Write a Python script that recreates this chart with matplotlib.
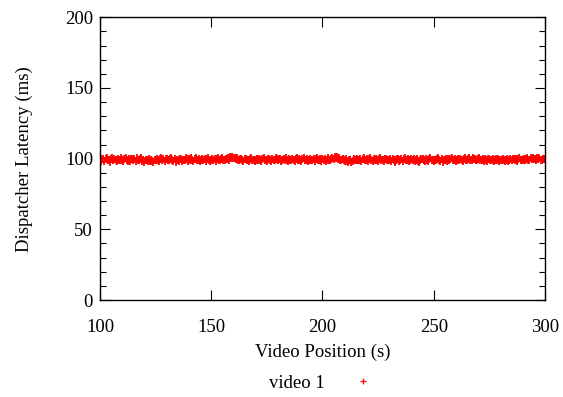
import numpy as np
import matplotlib
matplotlib.use("Agg")
import matplotlib.pyplot as plt
from matplotlib.ticker import MultipleLocator

plt.rcParams["font.family"] = ["Liberation Serif", "DejaVu Serif"]
FS = 13.5

# Dispatcher latency samples (ms), two samples per second of video, 100 s .. 300 s
latency_ms = [
    99.2, 98.6, 100.1, 99.5, 98.0, 99.8, 100.4, 98.9, 99.3, 97.9, 99.6, 100.2, 98.7, 99.9, 99.1, 98.3, 100.0, 99.4, 98.8, 100.3,
    99.0, 98.2, 99.7, 100.5, 99.3, 98.6, 99.9, 98.1, 99.5, 100.1, 98.9, 99.6, 98.4, 100.2, 99.2, 98.7, 99.8, 100.4, 98.5, 99.1,
    97.6, 98.9, 99.4, 98.2, 99.7, 98.0, 99.1, 98.6, 97.8, 99.3, 98.8, 100.0, 99.2, 98.5, 99.9, 100.3, 98.9, 99.5, 98.3, 99.8,
    100.1, 99.4, 98.7, 99.9, 100.5, 99.2, 98.4, 99.6, 97.7, 98.8, 99.3, 98.1, 99.7, 100.0, 98.6, 99.2, 98.9, 100.2, 99.5, 98.3,
    99.6, 98.9, 100.3, 99.1, 98.5, 99.8, 100.4, 99.0, 98.7, 99.9, 98.2, 99.4, 100.1, 98.8, 99.5, 98.4, 99.7, 100.2, 99.0, 98.6,
    99.3, 100.0, 98.8, 99.6, 98.4, 99.9, 100.5, 99.2, 98.7, 99.8, 100.3, 99.1, 98.9, 100.1, 99.6, 100.6, 99.4, 100.9, 100.2, 101.1,
    100.4, 100.8, 99.7, 100.2, 99.3, 98.9, 99.8, 100.1, 99.0, 98.6, 99.5, 100.0, 98.8, 99.4, 98.3, 99.7, 100.2, 98.9, 99.3, 98.5,
    99.1, 99.8, 98.7, 100.0, 99.4, 98.2, 99.6, 100.3, 98.9, 99.2, 98.6, 99.9, 100.1, 99.0, 98.4, 99.7, 99.3, 98.8, 100.2, 99.5,
    98.9, 99.6, 100.0, 98.3, 99.2, 99.8, 98.7, 100.4, 99.1, 98.5, 99.9, 99.4, 98.8, 100.1, 99.3, 98.6, 99.7, 100.2, 98.9, 99.5,
    99.0, 98.4, 99.8, 100.3, 99.2, 98.7, 99.6, 98.1, 99.4, 100.0, 98.8, 99.3, 99.9, 98.5, 99.7, 100.2, 99.1, 98.9, 99.5, 98.3,
    99.8, 99.2, 100.1, 98.6, 99.4, 100.5, 99.0, 98.8, 99.9, 100.7, 99.6, 100.9, 100.3, 101.0, 99.8, 100.4, 99.2, 98.7, 99.6, 98.9,
    98.2, 99.5, 98.6, 97.6, 98.9, 99.3, 97.9, 98.5, 99.7, 98.8, 99.4, 100.1, 98.7, 99.2, 99.9, 98.4, 99.6, 100.2, 99.0, 98.8,
    99.5, 98.3, 99.9, 100.3, 99.1, 98.6, 99.7, 98.9, 100.0, 99.3, 98.5, 99.8, 100.2, 98.9, 99.4, 98.1, 99.6, 100.0, 98.7, 99.3,
    98.8, 99.6, 98.2, 99.9, 99.2, 97.8, 98.9, 99.5, 100.1, 98.6, 99.3, 99.9, 98.4, 99.7, 100.2, 99.0, 98.7, 99.8, 98.3, 99.4,
    100.0, 98.9, 99.5, 98.1, 99.2, 99.8, 98.6, 97.7, 98.8, 99.6, 100.1, 99.0, 98.5, 99.7, 99.2, 98.4, 99.9, 100.3, 98.9, 99.1,
    98.3, 99.4, 98.7, 99.8, 100.2, 99.0, 98.5, 99.6, 97.9, 98.8, 99.3, 100.0, 98.6, 99.5, 98.9, 99.9, 100.4, 99.2, 98.7, 99.6,
    98.4, 99.1, 99.8, 98.8, 100.1, 99.4, 98.6, 99.9, 100.3, 99.0, 98.7, 99.5, 100.2, 99.3, 98.9, 100.4, 99.6, 100.0, 99.1, 98.8,
    99.7, 100.2, 98.9, 99.4, 100.0, 98.5, 99.6, 99.1, 98.3, 99.8, 100.1, 99.3, 98.7, 99.9, 98.6, 99.2, 100.0, 98.8, 99.5, 98.2,
    99.3, 98.7, 99.9, 98.9, 98.1, 99.4, 100.0, 98.6, 99.2, 99.8, 98.8, 99.5, 100.1, 98.9, 99.6, 98.4, 99.9, 100.3, 99.1, 98.7,
    99.4, 100.0, 98.8, 99.7, 100.4, 99.3, 98.9, 100.2, 99.6, 100.5, 99.8, 100.1, 99.2, 100.6, 99.7, 100.3, 99.0, 98.9, 99.6, 99.8,
    99.5,
]
t_start, t_end = 100, 300
video_pos = np.linspace(t_start, t_end, len(latency_ms))

series_label = "video 1"
x_ticks = [100, 150, 200, 250, 300]
y_ticks = [0, 50, 100, 150, 200]

fig = plt.figure(figsize=(5.63, 3.97), dpi=100)
ax = fig.add_axes([0.1776, 0.2443, 0.7904, 0.7121])

pts, = ax.plot(video_pos, latency_ms, linestyle="none", marker="+",
               markersize=5.5, markeredgewidth=1.3, color="#ff0000",
               label=series_label)

ax.set_xlim(t_start, t_end)
ax.set_ylim(0, 200)
ax.set_xticks(x_ticks)
ax.set_yticks(y_ticks)
ax.yaxis.set_minor_locator(MultipleLocator(10))

ax.tick_params(which="both", direction="in", top=True, right=True,
               labelsize=FS, colors="black", width=0.8)
ax.tick_params(which="major", length=7)
ax.tick_params(which="minor", length=4)
ax.tick_params(axis="x", which="major", pad=14)
ax.tick_params(axis="y", which="major", pad=5)
for s in ax.spines.values():
    s.set_linewidth(1.0)
    s.set_color("black")

ax.set_xlabel("Video Position (s)", fontsize=FS, va="center")
ax.set_ylabel("Dispatcher Latency (ms)", fontsize=FS, va="center")
ax.xaxis.set_label_coords(0.5, -0.184)
ax.yaxis.set_label_coords(-0.17, 0.5)

leg = fig.legend(handles=[pts], labels=[series_label], loc="center",
                 bbox_to_anchor=(0.578, 0.035), frameon=False, markerfirst=False,
                 handlelength=2.0, handletextpad=1.0, fontsize=FS, markerscale=0.85)
for h in leg.legend_handles:
    h.set_markeredgewidth(0.9)

fig.savefig("out.png", dpi=100)
